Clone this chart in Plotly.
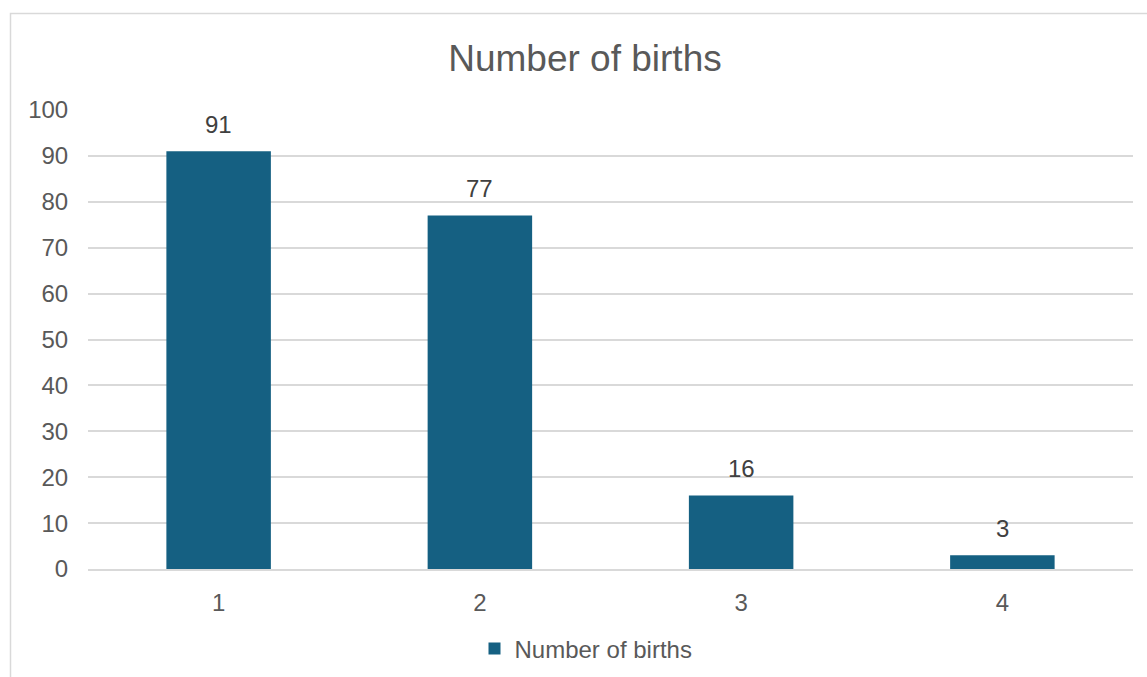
import plotly.graph_objects as go

categories = ["1", "2", "3", "4"]
births = [91, 77, 16, 3]
series_name = "Number of births"
title_text = "Number of births"

W, H = 1147, 677
ML, MR, MT, MB = 88, 14, 110, 108
plot_w = W - ML - MR
plot_h = H - MT - MB

bar_color = "#156082"
text_color = "#595959"
grid_color = "#d9d9d9"
font_family = "Liberation Sans, Arial, sans-serif"
fs = 24

fig = go.Figure()
fig.add_trace(go.Bar(
    x=categories, y=births, name=series_name,
    marker=dict(color=bar_color, line=dict(width=0)),
    width=0.4, showlegend=True,
))

for i, v in enumerate(births):
    fig.add_annotation(x=i, y=v, text=str(v), showarrow=False, yshift=27,
                       font=dict(size=fs, color="#404040", family=font_family))

def px_to_paper_x(px):
    return (px - ML) / plot_w

def px_to_paper_y(py):
    return (H - MB - py) / plot_h

fig.add_shape(type="rect", xref="paper", yref="paper",
              x0=px_to_paper_x(10.5), x1=px_to_paper_x(W + 5),
              y0=px_to_paper_y(H + 5), y1=px_to_paper_y(13.5),
              line=dict(color=grid_color, width=1.5), fillcolor="rgba(0,0,0,0)",
              layer="below")

fig.update_layout(
    width=W, height=H,
    margin=dict(l=ML, r=MR, t=MT, b=MB, autoexpand=False),
    paper_bgcolor="white", plot_bgcolor="white",
    font=dict(family=font_family, color=text_color, size=fs),
    title=dict(text=title_text, x=0.51, xanchor="center", y=1 - 58 / H, yanchor="middle",
               font=dict(size=37, color=text_color, family=font_family)),
    bargap=0.6,
    legend=dict(orientation="h", x=px_to_paper_x(586), xanchor="center", y=px_to_paper_y(649),
                yanchor="middle",
                font=dict(size=fs, color=text_color), itemwidth=30,
                bgcolor="rgba(0,0,0,0)"),
    xaxis=dict(type="category", range=[-0.5, 3.5], showgrid=False, showline=True,
               linecolor=grid_color, linewidth=1.5,
               ticks="outside", ticklen=11, tickcolor="rgba(0,0,0,0)",
               tickfont=dict(size=fs, color=text_color)),
    yaxis=dict(range=[0, 100], dtick=10, showgrid=True, gridcolor=grid_color, gridwidth=1.5,
               zeroline=False, showline=False,
               ticks="outside", ticklen=14, tickcolor="rgba(0,0,0,0)",
               tickfont=dict(size=fs, color=text_color)),
)

fig.write_html("out.html")
